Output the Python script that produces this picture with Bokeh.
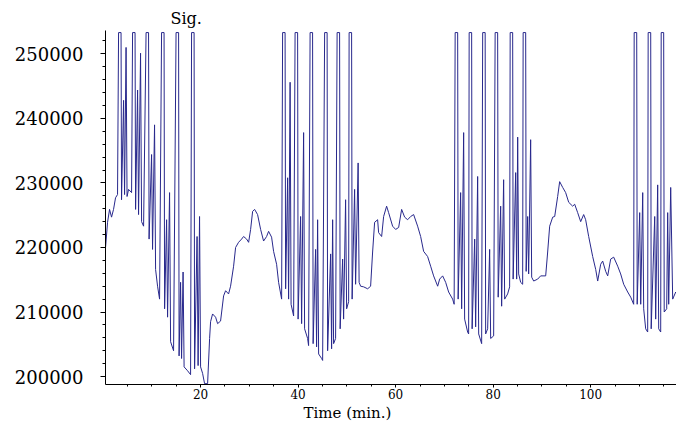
from bokeh.plotting import figure
from bokeh.models import Range1d, SingleIntervalTicker, BasicTickFormatter, Title, ColumnDataSource
from bokeh.embed import file_html
from bokeh.resources import INLINE

# Time (min.) and signal values
time_min = [
    0.51, 0.92, 1.33, 1.74, 2.15, 2.56, 2.97,
    # group 1
    3.18, 3.69, 3.79, 4.21, 4.41, 4.72, 4.92, 5.23, 5.85,
    6.05, 6.56, 6.67, 7.08, 7.28, 7.69, 7.90, 8.31,
    8.82, 9.33, 9.44, 9.95, 10.15, 10.56, 10.77, 11.18, 11.59,
    12.00, 12.51, 12.62, 13.03, 13.23, 13.64, 13.85, 14.46,
    14.97, 15.49, 15.59, 15.90, 16.10, 16.41, 16.62, 17.33, 17.95,
    18.15, 18.67, 18.77, 19.28, 19.49, 19.79, 20.00, 20.41, 20.82, 21.44,
    21.85, 22.05, 22.46, 23.08, 23.49, 24.10, 24.72, 25.13, 25.74, 26.15,
    26.77, 27.18, 27.79, 28.41, 28.82, 29.44, 29.85, 30.26, 30.67, 31.08,
    31.69, 32.31, 32.92, 33.54, 33.95, 34.56, 34.97, 35.59, 36.00, 36.62,
    # group 2
    36.82, 37.33, 37.44, 37.85, 38.05, 38.36, 38.56, 39.08,
    39.38, 39.90, 40.00, 40.51, 40.72, 41.13, 41.33, 41.95, 42.15,
    42.46, 42.97, 43.08, 43.59, 43.79, 44.00, 44.21, 44.82, 45.03,
    45.44, 45.95, 46.05, 46.67, 46.87, 47.08, 47.28, 47.69,
    48.00, 48.51, 48.62, 49.13, 49.33, 49.74, 49.95, 50.36,
    50.46, 50.97, 51.08, 51.59, 51.79, 52.31, 52.51, 52.82, 53.44, 54.26,
    54.87, 55.28, 55.69, 56.31, 56.51, 57.13, 57.54, 58.15, 58.56, 59.38,
    60.00, 60.62, 61.23, 61.85, 62.46, 63.08, 63.69, 64.51, 65.13, 65.74,
    66.56, 67.18, 67.79, 68.62, 69.03, 69.64, 70.26, 70.87, 71.69, 72.00,
    # group 3
    72.21, 72.72, 72.82, 73.33, 73.54, 73.95, 74.15, 74.77, 74.97,
    75.08, 75.59, 75.69, 76.21, 76.41, 76.82, 77.03, 77.64,
    77.85, 78.36, 78.46, 78.87, 79.28, 79.49, 80.10,
    80.41, 80.92, 81.03, 81.54, 81.74, 82.15, 82.36, 82.97, 83.38,
    83.49, 84.00, 84.10, 84.62, 84.82, 85.03, 85.23, 85.64, 86.05,
    86.15, 86.67, 86.77, 87.08, 87.28, 87.69, 87.90, 88.31, 89.13, 89.74,
    90.77, 91.18, 91.59, 92.21, 92.62, 93.23, 93.64, 94.26, 94.87, 95.49,
    96.31, 96.72, 97.33, 97.95, 98.56, 98.97, 99.59, 100.41, 101.03, 101.44,
    102.05, 102.46, 103.08, 103.49, 104.10, 104.72, 105.54, 106.15, 106.77,
    107.59, 108.21, 108.82,
    # group 4
    108.92, 109.44, 109.54, 110.05, 110.26, 110.67, 110.87, 111.28, 111.69,
    111.79, 112.31, 112.41, 113.13, 113.33, 113.74, 113.95, 114.36,
    114.46, 114.97, 115.08, 115.59, 115.79, 116.00, 116.41, 116.82, 117.44,
]

signal = [
    220000, 223900, 225900, 224700, 225900, 227700, 228200,
    # group 1
    253300, 253300, 227400, 242800, 228200, 251000, 227900, 229000, 228500,
    253300, 253300, 225900, 244400, 225100, 250100, 224000, 223300,
    253300, 253300, 221300, 234400, 219700, 239000, 216600, 214000, 212000,
    253300, 253300, 210500, 224300, 209200, 228500, 205400, 204000,
    253300, 253300, 203200, 214600, 202800, 216200, 201500, 200900, 200300,
    253300, 253300, 201200, 221700, 201700, 224800, 201500, 200500, 198900, 198900,
    205900, 208500, 209700, 209200, 208200, 208600, 212500, 213300, 212800, 214000,
    217100, 220000, 220800, 221300, 221700, 221300, 220800, 222800, 225600, 225900,
    225100, 222800, 221000, 221700, 222500, 221600, 219400, 217400, 214600, 212000,
    # group 2
    253300, 253300, 213600, 230800, 212000, 245600, 211200, 209400,
    253300, 253300, 208900, 224800, 208200, 237800, 207400, 205900, 204800,
    253300, 253300, 205100, 219700, 204600, 224300, 203500, 202800, 202500,
    253300, 253300, 204000, 219000, 204300, 224300, 205100, 205900,
    253300, 253300, 207400, 218200, 208900, 227400, 210500, 211600,
    253300, 253300, 212000, 229000, 214300, 233100, 214600, 214000, 213900, 213600,
    214000, 219300, 223900, 224300, 222300, 221700, 224800, 226400, 225400, 223300,
    222800, 223100, 225900, 224700, 224300, 224800, 225100, 223300, 221700, 219400,
    218600, 217100, 215600, 214000, 215100, 215600, 214600, 213100, 212000, 211200,
    # group 3
    253300, 253300, 212000, 228500, 210500, 237800, 208900, 206900, 206600,
    253300, 253300, 207400, 221300, 207700, 231000, 206600, 205100,
    253300, 253300, 206600, 207400, 219700, 205900, 206300,
    253300, 253300, 212300, 226400, 210900, 230500, 212000, 212800, 213900,
    253300, 253300, 215100, 231600, 215100, 237100, 215900, 214600, 214300,
    253300, 253300, 216300, 224800, 215900, 236700, 215400, 214800, 215100, 215600,
    215600, 219300, 223300, 224700, 224800, 227900, 230200, 229300, 228500, 227000,
    226400, 226700, 225400, 224000, 225100, 224300, 221700, 218600, 216600, 214800,
    217400, 217900, 216300, 215600, 218200, 218500, 217100, 215900, 214300,
    213100, 212300, 211200,
    # group 4
    253300, 253300, 211200, 225400, 211200, 228500, 210500, 207400, 206900,
    253300, 253300, 207400, 224800, 208900, 229700, 207400, 206900,
    253300, 253300, 210000, 210500, 225400, 211200, 229300, 212000, 213100,
]

x_ticks_interval = 20
y_ticks_interval = 10000
y_label = "Sig."
x_label = "Time (min.)"

source = ColumnDataSource(data=dict(t=time_min, s=signal))

p = figure(width=676, height=421, output_backend="svg", toolbar_location=None,
           x_range=Range1d(0.5, 117.6), y_range=Range1d(198770, 253620),
           min_border_left=105, min_border_right=0, min_border_top=30, min_border_bottom=35)

p.line("t", "s", source=source, line_color="#28288c", line_width=1)

p.outline_line_color = None
p.xgrid.visible = False
p.ygrid.visible = False
p.background_fill_color = "white"
p.border_fill_color = "white"

p.xaxis.ticker = SingleIntervalTicker(interval=x_ticks_interval, num_minor_ticks=4)
p.yaxis.ticker = SingleIntervalTicker(interval=y_ticks_interval, num_minor_ticks=5)
p.yaxis.formatter = BasicTickFormatter(use_scientific=False)

for ax in (p.xaxis[0], p.yaxis[0]):
    ax.axis_line_color = "black"
    ax.major_tick_line_color = "black"
    ax.minor_tick_line_color = "black"
    ax.major_tick_in = 0
    ax.minor_tick_in = 0
    ax.major_label_text_font = "DejaVu Serif"
    ax.major_label_text_color = "black"

p.yaxis.major_tick_out = 5
p.yaxis.minor_tick_out = 3
p.yaxis.major_label_standoff = 17
p.yaxis.major_label_text_font_size = "18px"

p.xaxis.major_tick_out = 3
p.xaxis.minor_tick_out = 2
p.xaxis.major_label_standoff = 1
p.xaxis.major_label_text_font_size = "12px"

p.add_layout(Title(text=y_label, align="left", offset=65, standoff=6,
                   text_font="DejaVu Serif", text_font_size="16px",
                   text_font_style="normal", text_color="black"), "above")
p.add_layout(Title(text=x_label, align="left", offset=198, standoff=0,
                   text_font="DejaVu Serif", text_font_size="15px",
                   text_font_style="normal", text_color="black"), "below")

open("out.html", "w").write(file_html(p, INLINE))
